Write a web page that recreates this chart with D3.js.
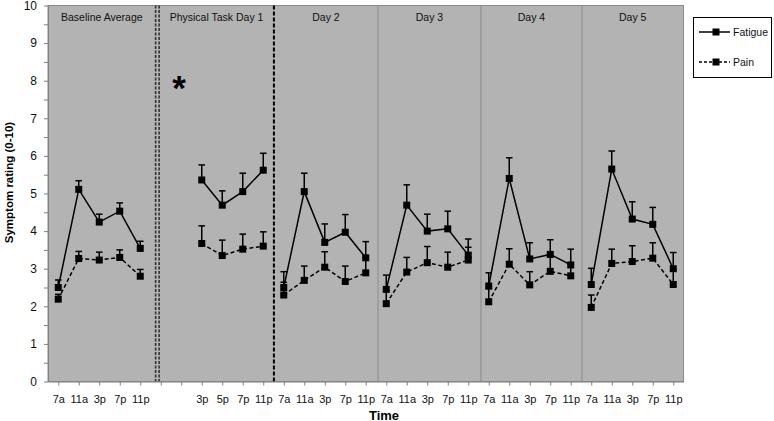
<!DOCTYPE html>
<html><head><meta charset="utf-8">
<script src="https://cdn.jsdelivr.net/npm/d3@7/dist/d3.min.js"></script>
<style>body{margin:0;background:#fff}svg{display:block;font-family:"Liberation Sans",Arial,sans-serif}</style>
</head><body><svg id="c" width="774" height="421"></svg>
<script>
// ---- data ----
const categories = ["7a","11a","3p","7p","11p","","","3p","5p","7p","11p",
  "7a","11a","3p","7p","11p","7a","11a","3p","7p","11p",
  "7a","11a","3p","7p","11p","7a","11a","3p","7p","11p"];
// panel index for each category (-1 = empty slot)
const panelOf = [0,0,0,0,0,-1,-1,1,1,1,1,2,2,2,2,2,3,3,3,3,3,4,4,4,4,4,5,5,5,5,5];
const panelTitles = ["Baseline Average","Physical Task Day 1","Day 2","Day 3","Day 4","Day 5"];
const fatigue = [2.50,5.11,4.24,4.53,3.54,null,null,5.36,4.69,5.05,5.62,
  2.50,5.05,3.70,3.97,3.29, 2.45,4.69,4.00,4.06,3.36,
  2.54,5.40,3.26,3.38,3.10, 2.58,5.65,4.32,4.18,3.00];
const fatigueErr = [0.20,0.23,0.21,0.22,0.19,null,null,0.40,0.38,0.49,0.45,
  0.42,0.49,0.49,0.47,0.43, 0.38,0.54,0.45,0.47,0.43,
  0.35,0.55,0.43,0.39,0.42, 0.43,0.48,0.46,0.45,0.43];
const pain = [2.19,3.27,3.23,3.30,2.80,null,null,3.67,3.35,3.52,3.60,
  2.30,2.69,3.04,2.66,2.89, 2.07,2.91,3.16,3.04,3.23,
  2.12,3.12,2.57,2.93,2.81, 1.97,3.14,3.19,3.28,2.58];
const painErr = [0.13,0.19,0.21,0.20,0.18,null,null,0.47,0.41,0.40,0.38,
  0.34,0.38,0.41,0.41,0.41, 0.35,0.39,0.43,0.40,0.34,
  0.35,0.41,0.35,0.41,0.30, 0.33,0.38,0.42,0.41,0.40];
const yTicks = d3.range(0, 10.01, 0.5);
// separators in category units
const doubleDashAt = [5.25, 5.42];
const dashAt = [11.02];
const daySepAt = [16.1, 21.12, 26.05];
const panelBounds = [0, 5.25, 5.42, 11.02, 16.1, 21.12, 26.05, 31];

// ---- layout ----
const svg = d3.select("#c");
const L = 48, R = 683.5, T = 5.5, B = 381.5;
const x = d3.scaleLinear().domain([0, categories.length]).range([L, R]);
const y = d3.scaleLinear().domain([0, 10]).range([B, T]);
const cx = i => x(i + 0.5);

svg.append("rect").attr("x", L).attr("y", T).attr("width", R - L).attr("height", B - T)
  .attr("fill", "#b3b3b3").attr("stroke", "#8a8a8a").attr("stroke-width", 1);

// separators
svg.selectAll(".dd").data(doubleDashAt).join("line")
  .attr("x1", d => x(d)).attr("x2", d => x(d)).attr("y1", T).attr("y2", B)
  .attr("stroke", "#333").attr("stroke-width", 1.6).attr("stroke-dasharray", "3,1.5");
svg.selectAll(".ds").data(dashAt).join("line")
  .attr("x1", d => x(d)).attr("x2", d => x(d)).attr("y1", T).attr("y2", B)
  .attr("stroke", "#000").attr("stroke-width", 2).attr("stroke-dasharray", "4,2");
svg.selectAll(".dy").data(daySepAt).join("line")
  .attr("x1", d => x(d)).attr("x2", d => x(d)).attr("y1", T).attr("y2", B)
  .attr("stroke", "#8c8c8c").attr("stroke-width", 1);

// panel titles
const titleX = [ (panelBounds[0]+panelBounds[1])/2, (panelBounds[2]+panelBounds[3])/2,
  (panelBounds[3]+panelBounds[4])/2, (panelBounds[4]+panelBounds[5])/2,
  (panelBounds[5]+panelBounds[6])/2, (panelBounds[6]+panelBounds[7])/2 ];
svg.selectAll(".pt").data(panelTitles).join("text")
  .attr("x", (d, i) => x(titleX[i])).attr("y", 20.5).attr("text-anchor", "middle")
  .attr("font-size", 10.5).attr("fill", "#111").text(d => d);

// asterisk
svg.append("text").attr("x", x(6.39)).attr("y", 100).attr("text-anchor", "middle")
  .attr("font-size", 35).attr("font-weight", "bold").attr("fill", "#000").text("*");

// axes
const xAxis = d3.axisBottom(x).tickValues(categories.map((c, i) => i + 0.5))
  .tickFormat((d, i) => categories[i]).tickSize(4).tickPadding(9.5).tickSizeOuter(0);
const gx = svg.append("g").attr("transform", `translate(0,${B})`).call(xAxis);
gx.select(".domain").attr("stroke", "#7f7f7f");
gx.selectAll(".tick line").attr("stroke", "#7f7f7f");
gx.selectAll("text").attr("font-size", 11).attr("fill", "#111").attr("font-family", "Liberation Sans, Arial, sans-serif");

const yAxis = d3.axisLeft(y).tickValues(yTicks)
  .tickFormat(d => Number.isInteger(d) ? d : "").tickSize(4).tickPadding(7).tickSizeOuter(0);
const gy = svg.append("g").attr("transform", `translate(${L},0)`).call(yAxis);
gy.select(".domain").attr("stroke", "#7f7f7f");
gy.selectAll(".tick line").attr("stroke", "#7f7f7f");
gy.selectAll("text").attr("font-size", 12).attr("fill", "#111").attr("font-family", "Liberation Sans, Arial, sans-serif");

// axis titles
svg.append("text").attr("transform", `translate(13,182.5) rotate(-90)`).attr("text-anchor", "middle")
  .attr("font-size", 11.5).attr("font-weight", "bold").attr("fill", "#000").text("Symptom rating (0-10)");
svg.append("text").attr("x", 384).attr("y", 419.5).attr("text-anchor", "middle")
  .attr("font-size", 13).attr("font-weight", "bold").attr("fill", "#000").text("Time");

// series
const series = [
  {name: "Fatigue", values: fatigue, err: fatigueErr, dash: null},
  {name: "Pain", values: pain, err: painErr, dash: "4,2.5"}
];
const line = d3.line().defined(d => d.v != null).x(d => cx(d.i)).y(d => y(d.v));
const MS = 7;
series.forEach(s => {
  const pts = s.values.map((v, i) => ({i, v, e: s.err[i], p: panelOf[i]})).filter(d => d.v != null);
  const g = svg.append("g");
  g.selectAll("line.e").data(pts).join("line")
    .attr("x1", d => cx(d.i)).attr("x2", d => cx(d.i))
    .attr("y1", d => y(d.v)).attr("y2", d => y(d.v + d.e))
    .attr("stroke", "#000").attr("stroke-width", 1.5);
  g.selectAll("line.c").data(pts).join("line")
    .attr("x1", d => cx(d.i) - 3.3).attr("x2", d => cx(d.i) + 3.3)
    .attr("y1", d => y(d.v + d.e)).attr("y2", d => y(d.v + d.e))
    .attr("stroke", "#000").attr("stroke-width", 1.5);
});
series.forEach(s => {
  const pts = s.values.map((v, i) => ({i, v, p: panelOf[i]})).filter(d => d.v != null);
  const groups = d3.groups(pts, d => d.p);
  groups.forEach(([p, arr]) => {
    svg.append("path").attr("d", line(arr)).attr("fill", "none").attr("stroke", "#000")
      .attr("stroke-width", 1.5).attr("stroke-dasharray", s.dash);
  });
  svg.selectAll(null).data(pts).join("rect")
    .attr("x", d => cx(d.i) - MS / 2).attr("y", d => y(d.v) - MS / 2)
    .attr("width", MS).attr("height", MS).attr("fill", "#000");
});

// legend
const lg = svg.append("g");
lg.append("rect").attr("x", 693.5).attr("y", 17.5).attr("width", 78).attr("height", 60)
  .attr("fill", "#fff").attr("stroke", "#000").attr("stroke-width", 1);
series.forEach((s, k) => {
  const ly = 32 + k * 30;
  lg.append("line").attr("x1", 699).attr("x2", 730).attr("y1", ly).attr("y2", ly)
    .attr("stroke", "#000").attr("stroke-width", 1.5).attr("stroke-dasharray", s.dash ? "3,2" : null);
  lg.append("rect").attr("x", 716 - 3.5).attr("y", ly - 3.5).attr("width", 7).attr("height", 7).attr("fill", "#000");
  lg.append("text").attr("x", 733).attr("y", ly + 4).attr("font-size", 10.5).attr("fill", "#111").text(s.name);
});
</script></body></html>
